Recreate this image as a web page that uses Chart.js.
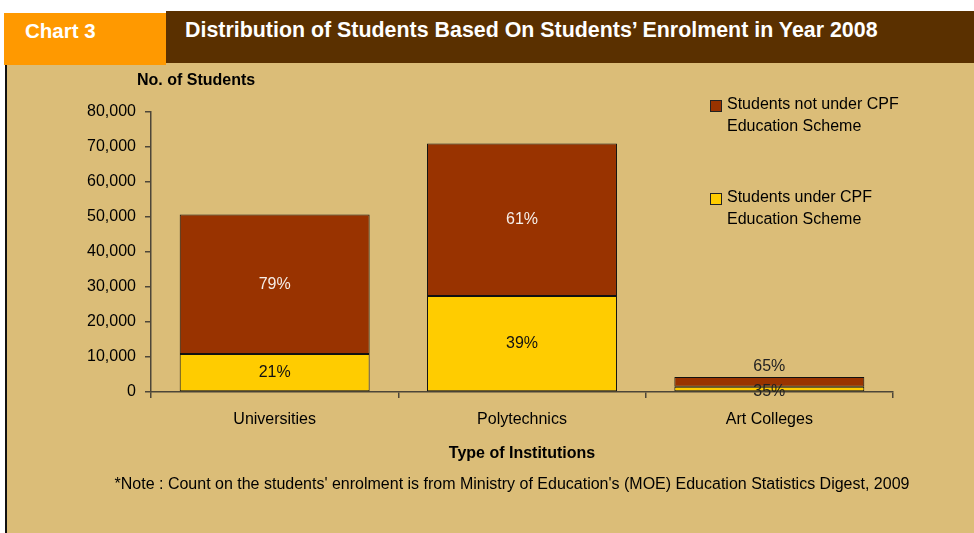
<!DOCTYPE html>
<html>
<head>
<meta charset="utf-8">
<script src="https://cdn.jsdelivr.net/npm/chart.js@4.4.1/dist/chart.umd.min.js"></script>
<style>
  html, body { margin: 0; padding: 0; background: #fff; }
  body { width: 974px; height: 533px; position: relative; overflow: hidden; font-family: "Liberation Sans", Arial, sans-serif; }
  #panel { position: absolute; left: 5px; top: 63px; width: 969px; height: 470px; background: #DBBD78; border-left: 2px solid #111; box-sizing: border-box; }
  #tag { position: absolute; left: 4px; top: 13px; width: 162px; height: 52px; background: #FF9900; }
  #tag span { position: absolute; left: 21px; top: 6px; color: #fff; font-weight: bold; font-size: 20.5px; }
  #bar { position: absolute; left: 166px; top: 11px; width: 808px; height: 52px; background: #5A3000; }
  #bar span { position: absolute; left: 19px; top: 7px; color: #fff; font-weight: bold; font-size: 21.4px; white-space: nowrap; }
  #wrap { position: absolute; left: 7px; top: 63px; width: 967px; height: 470px; }
  #ytitle { position: absolute; left: 137px; top: 71px; font-weight: bold; font-size: 16px; color: #000; }
  #note { position: absolute; left: 0; width: 1024px; top: 475px; text-align: center; font-size: 16px; color: #000; white-space: nowrap; }
  #legend { position: absolute; left: 710px; top: 93px; font-size: 16px; color: #000; }
  .item { position: relative; padding-left: 17px; line-height: 22px; height: 93px; }
  .item i { position: absolute; left: 0; top: 7px; width: 10px; height: 10px; border: 1px solid #222; }
</style>
</head>
<body>
<div id="panel"></div>
<div id="tag"><span>Chart 3</span></div>
<div id="bar"><span>Distribution of Students Based On Students’ Enrolment in Year 2008</span></div>
<div id="wrap"><canvas id="chart"></canvas></div>
<div id="ytitle">No. of Students</div>
<div id="legend"></div>
<div id="note">*Note : Count on the students' enrolment is from Ministry of Education's (MOE) Education Statistics Digest, 2009</div>
<script>
const institutions = ['Universities', 'Polytechnics', 'Art Colleges'];
const underCPF = [10860, 27430, 1500];
const notUnderCPF = [39830, 43540, 2800];
const yTicks = [0, 10000, 20000, 30000, 40000, 50000, 60000, 70000, 80000];

const axisColor = '#4d4638';
const font = { family: '"Liberation Sans", Arial, sans-serif', size: 16 };

// подписи процентов на сегментах
const pctLabels = {
  id: 'pctLabels',
  afterDatasetsDraw(chart) {
    const ctx = chart.ctx;
    ctx.save();
    ctx.font = '16px "Liberation Sans", Arial, sans-serif';
    ctx.textAlign = 'center';
    ctx.textBaseline = 'middle';
    chart.data.datasets.forEach((ds, di) => {
      const meta = chart.getDatasetMeta(di);
      meta.data.forEach((bar, i) => {
        const total = underCPF[i] + notUnderCPF[i];
        const pct = Math.round(ds.data[i] / total * 100) + '%';
        const h = Math.abs(bar.base - bar.y);
        let y = (bar.y + bar.base) / 2;
        let color = di === 1 ? '#F5EEE8' : '#111';
        if (h < 20) {
          color = '#222';
          if (di === 1) y = bar.y - 10;
          else y = y + 3;
        }
        ctx.fillStyle = color;
        ctx.fillText(pct, bar.x, y);
      });
    });
    ctx.restore();
  }
};

const chart = new Chart(document.getElementById('chart'), {
  type: 'bar',
  data: {
    labels: institutions,
    datasets: [
      { label: 'Students under CPF Education Scheme', data: underCPF, backgroundColor: '#FFCC00', borderColor: '#111', borderWidth: 1, borderSkipped: false },
      { label: 'Students not under CPF Education Scheme', data: notUnderCPF, backgroundColor: '#993300', borderColor: '#111', borderWidth: 1, borderSkipped: false }
    ]
  },
  options: {
    responsive: true,
    maintainAspectRatio: false,
    animation: false,
    barPercentage: 0.768,
    categoryPercentage: 1,
    layout: { padding: { top: 49, right: 81, left: 0, bottom: 0 } },
    plugins: { legend: { display: false }, tooltip: { enabled: false } },
    scales: {
      x: {
        stacked: true,
        afterFit: s => { s.height = 141; },
        border: { color: axisColor, width: 1.5 },
        grid: { offset: true, drawOnChartArea: false, drawTicks: true, tickLength: 6, color: axisColor, lineWidth: 1.5 },
        ticks: { color: '#000', font: font, padding: 12 },
        title: { display: true, text: 'Type of Institutions', color: '#000', font: { family: font.family, size: 16, weight: 'bold' }, padding: { top: 0, bottom: 70 } }
      },
      y: {
        stacked: true,
        min: 0,
        max: 80000,
        afterFit: s => { s.width = 144; },
        afterBuildTicks: s => { s.ticks = yTicks.map(v => ({ value: v })); },
        border: { color: axisColor, width: 1.5 },
        grid: { drawOnChartArea: false, drawTicks: true, tickLength: 6, color: axisColor, lineWidth: 1.5 },
        ticks: { color: '#000', font: font, padding: 9, callback: v => v.toLocaleString('en-US') }
      }
    }
  },
  plugins: [pctLabels]
});

// легенда справа, в обратном порядке как в Excel
const legend = document.getElementById('legend');
chart.data.datasets.slice().reverse().forEach(ds => {
  const words = ds.label.split(' ');
  const cut = ds.label.indexOf('not') < 0 ? 3 : 4;
  const div = document.createElement('div');
  div.className = 'item';
  div.innerHTML = '<i style="background:' + ds.backgroundColor + '"></i>' +
    words.slice(0, cut).join(' ') + '<br>' + words.slice(cut).join(' ');
  legend.appendChild(div);
});
</script>
</body>
</html>
